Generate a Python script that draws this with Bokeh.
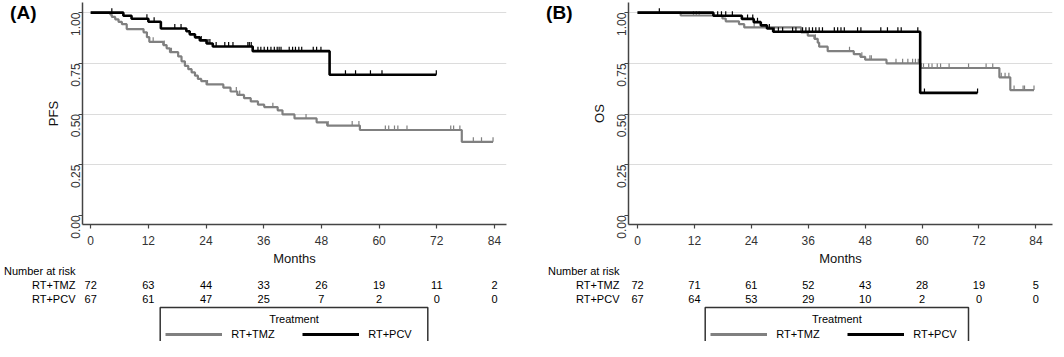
import math
import numpy as np
from bokeh.plotting import figure
from bokeh.models import (Range1d, FixedTicker, NumeralTickFormatter, Label, Legend,
                          LegendItem, BoxAnnotation, ColumnDataSource, LinearAxis)
from bokeh.layouts import row, column
from bokeh.embed import file_html
from bokeh.resources import INLINE

FONT = "Liberation Sans"
GRAY = "#808080"
BLACK = "#000000"

# ---------------- data ----------------
risk_times = [0, 12, 24, 36, 48, 60, 72, 84]

# Panel A: PFS
pfs_tmz_t = [0, 4.1, 4.4, 5.1, 5.8, 6.5, 7.5, 11.0, 11.7, 12.2, 15.1, 15.8, 16.5, 18.2, 18.9,
             19.6, 20.3, 21.0, 21.7, 22.3, 23.0, 24.1, 27.6, 29.1, 30.5, 31.9, 33.3, 34.8,
             36.1, 38.9, 39.9, 42.4, 47.0, 49.2, 56.0, 77.2, 83.7]
pfs_tmz_s = [1.0, 0.990, 0.979, 0.967, 0.954, 0.943, 0.919, 0.903, 0.879, 0.856, 0.840, 0.824,
             0.805, 0.784, 0.760, 0.737, 0.721, 0.705, 0.689, 0.673, 0.662, 0.646, 0.630, 0.611,
             0.594, 0.578, 0.562, 0.546, 0.534, 0.518, 0.498, 0.478, 0.459, 0.443, 0.421,
             0.363, 0.363]
pfs_tmz_cens = [13.0, 15.3, 16.8, 24.3, 30.3, 31.0, 37.9, 44.8, 49.4, 54.4, 55.8, 61.3, 62.0,
                63.2, 63.9, 65.8, 74.9, 75.5, 76.8, 79.6, 81.3, 83.7]

pfs_pcv_t = [0, 6.8, 8.5, 12.0, 14.6, 19.9, 20.6, 21.7, 22.7, 24.1, 25.4, 33.7, 49.7, 71.9]
pfs_pcv_s = [1.0, 0.985, 0.970, 0.955, 0.922, 0.908, 0.893, 0.878, 0.863, 0.848, 0.833,
             0.810, 0.694, 0.694]
pfs_pcv_cens = [4.4, 11.7, 13.2, 17.5, 18.8, 23.0, 24.4, 24.8, 26.1, 27.9, 28.7, 29.6, 32.7,
                33.0, 33.4, 34.8, 35.4, 36.1, 36.8, 37.5, 38.2, 38.8, 39.2, 39.6, 41.3, 42.0,
                42.6, 43.3, 43.9, 46.3, 47.0, 47.9, 53.0, 55.1, 58.2, 60.6, 71.9]

pfs_risk_tmz = [72, 63, 44, 33, 26, 19, 11, 2]
pfs_risk_pcv = [67, 61, 47, 25, 7, 2, 0, 0]

# Panel B: OS
os_tmz_t = [0, 9.1, 17.9, 18.6, 21.4, 22.5, 34.5, 35.9, 37.3, 38.0, 38.3, 40.1, 45.6, 47.0,
            48.0, 52.5, 59.7, 76.3, 78.6, 83.6]
os_tmz_s = [1.0, 0.986, 0.971, 0.957, 0.943, 0.927, 0.903, 0.887, 0.871, 0.852, 0.832, 0.810,
            0.795, 0.782, 0.768, 0.750, 0.727, 0.681, 0.618, 0.618]
os_tmz_cens = [11.8, 12.4, 13.0, 24.6, 37.5, 44.7, 47.3, 49.0, 49.3, 54.5, 55.9, 57.0, 58.0,
               58.6, 59.2, 60.3, 61.4, 62.1, 63.2, 63.9, 65.7, 69.8, 73.5, 74.9, 76.7, 77.5,
               78.3, 79.4, 81.3, 81.6, 83.6]

os_pcv_t = [0, 16.0, 22.0, 24.5, 26.0, 27.3, 28.6, 59.6, 71.7]
os_pcv_s = [1.0, 0.985, 0.969, 0.953, 0.937, 0.922, 0.906, 0.604, 0.604]
os_pcv_cens = [4.6, 16.9, 17.7, 18.6, 20.0, 23.2, 24.3, 25.3, 27.8, 28.8, 29.7, 30.6, 32.7,
               33.4, 34.8, 35.5, 36.2, 36.9, 37.6, 38.3, 39.0, 41.5, 42.2, 42.9, 43.6, 46.4,
               47.1, 51.3, 52.7, 54.9, 55.6, 59.1, 60.5, 71.7]

os_risk_tmz = [72, 71, 61, 52, 43, 28, 19, 5]
os_risk_pcv = [67, 64, 53, 29, 10, 2, 0, 0]

groups = ["RT+TMZ", "RT+PCV"]
risk_header = "Number at risk"
legend_title = "Treatment"
y_ticks = [0, 0.25, 0.5, 0.75, 1.0]
grid_ticks = [0.25, 0.5, 0.75, 1.0]


def surv_at(t_arr, s_arr, times):
    idx = np.searchsorted(np.asarray(t_arr), np.asarray(times), side="right") - 1
    return np.asarray(s_arr)[idx]


def make_panel(tag, ylabel, tmz, pcv, risk_tmz, risk_pcv, fig_w, bl, br, xr,
               tag_standoff, row_standoff, box_l, box_r):
    main_h, low_h, overlap = 270, 78, 7
    p = figure(width=fig_w, height=main_h, x_range=Range1d(*xr), y_range=Range1d(-0.045, 1.05),
               output_backend="svg", toolbar_location=None,
               min_border_left=bl, min_border_right=br, min_border_top=2, min_border_bottom=46)
    p.outline_line_color = None
    p.xgrid.visible = False
    p.ygrid.ticker = FixedTicker(ticks=grid_ticks)
    p.ygrid.grid_line_color = "#dcdcdc"
    p.ygrid.grid_line_width = 1
    p.xaxis.ticker = FixedTicker(ticks=risk_times)
    p.yaxis.ticker = FixedTicker(ticks=y_ticks)
    p.yaxis.formatter = NumeralTickFormatter(format="0.00")
    p.yaxis.major_label_orientation = math.pi / 2
    for ax in (p.xaxis[0], p.yaxis[0]):
        ax.axis_line_color = "#444444"
        ax.axis_line_width = 1.5
        ax.major_tick_line_color = "#444444"
        ax.major_tick_line_width = 1.2
        ax.major_tick_out = 4
        ax.major_tick_in = 0
        ax.minor_tick_out = 0
        ax.minor_tick_in = 0
        ax.major_label_text_font = FONT
        ax.major_label_text_font_size = "12px"
        ax.major_label_text_color = "#333333"
        ax.axis_label_text_font = FONT
        ax.axis_label_text_font_size = "13px"
        ax.axis_label_text_font_style = "normal"
        ax.axis_label_text_color = "#111111"
        ax.axis_label_standoff = 3
    p.xaxis[0].major_label_standoff = 7
    p.yaxis[0].major_label_standoff = 3
    p.xaxis.axis_label = "Months"
    p.yaxis.axis_label = ylabel

    # panel tag "(A)"/"(B)" as an outer left axis label at the 1.00 level
    tag_axis = LinearAxis(ticker=FixedTicker(ticks=[1.0]), major_label_overrides={1.0: tag},
                          axis_line_color=None, major_tick_line_color=None,
                          minor_tick_line_color=None, major_tick_out=0, major_tick_in=0,
                          major_label_standoff=tag_standoff, major_label_text_font=FONT,
                          major_label_text_font_size="19px", major_label_text_font_style="bold",
                          major_label_text_color="#000000")
    p.add_layout(tag_axis, "left")

    for (t, s, cens), col, lw in ((tmz, GRAY, 2.2), (pcv, BLACK, 2.6)):
        p.step(x=t, y=s, mode="after", line_color=col, line_width=lw)
        cs = surv_at(t, s, cens)
        src = ColumnDataSource(dict(x=cens, y0=cs, y1=cs + 0.022))
        p.segment(x0="x", y0="y0", x1="x", y1="y1", source=src, line_color=col, line_width=1.2)

    # lower: number at risk + legend (frame aligned with the plot above)
    top_px, step_px = 7.0, 14.0
    q = figure(width=fig_w, height=low_h, x_range=p.x_range,
               y_range=Range1d((low_h - top_px) / step_px, -top_px / step_px),
               output_backend="svg", toolbar_location=None, x_axis_type=None, y_axis_type=None,
               min_border_left=bl, min_border_right=br, min_border_top=0, min_border_bottom=0,
               margin=(-overlap, 0, 0, 0))
    q.outline_line_color = None
    q.background_fill_alpha = 0
    q.border_fill_alpha = 0
    q.xgrid.visible = False
    q.ygrid.visible = False
    row_axis = LinearAxis(ticker=FixedTicker(ticks=[0, 1, 2]),
                          major_label_overrides={0: risk_header, 1: groups[0], 2: groups[1]},
                          axis_line_color=None, major_tick_line_color=None,
                          minor_tick_line_color=None, major_tick_out=0, major_tick_in=0,
                          major_label_standoff=row_standoff, major_label_text_font=FONT,
                          major_label_text_font_size="11px", major_label_text_color="#000000")
    q.add_layout(row_axis, "left")

    for r, vals in ((1, risk_tmz), (2, risk_pcv)):
        q.text(x=risk_times, y=[r] * len(vals), text=[str(v) for v in vals], text_align="center",
               text_baseline="middle", text_font={"value": FONT}, text_font_size="11px",
               text_color="#000000")

    r1 = q.line(x=tmz[0], y=tmz[1], line_color=GRAY, line_width=3, visible=False)
    r2 = q.line(x=pcv[0], y=pcv[1], line_color=BLACK, line_width=3, visible=False)
    q.add_layout(BoxAnnotation(left=box_l, right=box_r, bottom=-3, top=34,
                               left_units="screen", right_units="screen",
                               bottom_units="screen", top_units="screen",
                               fill_color=None, fill_alpha=0, line_color="#333333",
                               line_width=1.5, line_alpha=1))
    q.add_layout(Label(x=(box_l + box_r) / 2, y=22.5, x_units="screen", y_units="screen",
                       text=legend_title, text_font=FONT, text_font_size="11px",
                       text_align="center", text_baseline="middle", text_color="#000000"))
    leg = Legend(items=[LegendItem(label=groups[0], renderers=[r1]),
                        LegendItem(label=groups[1], renderers=[r2])],
                 location=(box_l + 5.5, 0), orientation="horizontal",
                 glyph_width=57, glyph_height=14, label_height=14, label_width=60,
                 label_standoff=9, spacing=11, padding=0, margin=0,
                 border_line_color=None, background_fill_alpha=0,
                 label_text_font=FONT, label_text_font_size="11px", label_text_color="#000000")
    q.add_layout(leg)
    return column(p, q, spacing=0)


panel_a = make_panel("(A)", "PFS", (pfs_tmz_t, pfs_tmz_s, pfs_tmz_cens),
                     (pfs_pcv_t, pfs_pcv_s, pfs_pcv_cens), pfs_risk_tmz, pfs_risk_pcv,
                     fig_w=528, bl=80, br=22, xr=(-1.7, 86.5),
                     tag_standoff=6, row_standoff=7, box_l=77.7, box_r=345.3)
panel_b = make_panel("(B)", "OS", (os_tmz_t, os_tmz_s, os_tmz_cens),
                     (os_pcv_t, os_pcv_s, os_pcv_cens), os_risk_tmz, os_risk_pcv,
                     fig_w=526, bl=100, br=2, xr=(-1.9, 87.5),
                     tag_standoff=16, row_standoff=9, box_l=76.7, box_r=340.0)

layout = row(panel_a, panel_b, spacing=0)
open("out.html", "w").write(file_html(layout, INLINE))
